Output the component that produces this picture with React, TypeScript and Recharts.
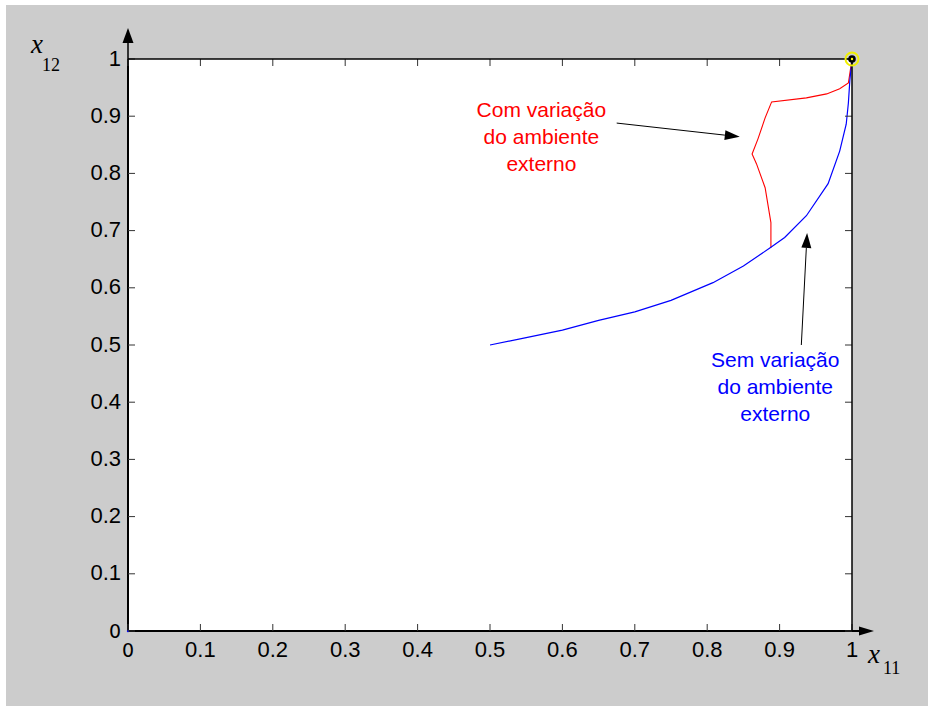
import React from "react";
import {
  ComposedChart,
  Line,
  Scatter,
  XAxis,
  YAxis,
  ReferenceLine,
  ReferenceDot,
  CartesianGrid,
} from "recharts";

// ---- data ----
const xTicks = [0, 0.1, 0.2, 0.3, 0.4, 0.5, 0.6, 0.7, 0.8, 0.9, 1];
const yTicks = [0, 0.1, 0.2, 0.3, 0.4, 0.5, 0.6, 0.7, 0.8, 0.9, 1];

// Sem variação do ambiente externo (blue)
const semX = [0.5, 0.55, 0.6, 0.65, 0.7, 0.75, 0.808, 0.85, 0.887, 0.907, 0.937, 0.967, 0.983, 0.992, 0.995, 0.997, 1];
const semY = [0.5, 0.513, 0.526, 0.543, 0.558, 0.578, 0.609, 0.638, 0.67, 0.688, 0.726, 0.782, 0.839, 0.886, 0.923, 0.962, 1];

// Com variação do ambiente externo (red)
const comX = [0.888, 0.888, 0.88, 0.868, 0.862, 0.87, 0.88, 0.889, 0.937, 0.965, 0.983, 0.995, 1];
const comY = [0.67, 0.714, 0.775, 0.817, 0.834, 0.86, 0.897, 0.925, 0.932, 0.939, 0.948, 0.958, 1];

const markerPoint = [{ x: 1, y: 1 }];
const originPoint = [{ x: 0, y: 0 }];

const comLabel = ["Com variação", "do ambiente", "externo"];
const semLabel = ["Sem variação", "do ambiente", "externo"];
const comLabelPos = { x: 0.571, y: 0.899 };
const semLabelPos = { x: 0.894, y: 0.4615 };
const comArrow = [{ x: 0.675, y: 0.888 }, { x: 0.845, y: 0.864 }];
const semArrow = [{ x: 0.93, y: 0.5 }, { x: 0.938, y: 0.696 }];

const semData = semX.map((x, i) => ({ x, y: semY[i] }));
const comData = comX.map((x, i) => ({ x, y: comY[i] }));

// ---- layout ----
const W = 928;
const H = 706;
const P = { left: 128, top: 59, right: 852, bottom: 631 };
const SANS = "'Liberation Sans', Arial, Helvetica, sans-serif";
const SERIF = "'Liberation Serif', 'Times New Roman', serif";
const TICK_LEN = 7;
const TICK_FS = 22;

const fmt = (v: number) => (v === 0 ? "0" : v === 1 ? "1" : v.toFixed(1));

const XTick = (props: any) => {
  const { x, payload } = props;
  const v = payload.value;
  return (
    <g>
      <line x1={x} y1={P.bottom} x2={x} y2={P.bottom - TICK_LEN} stroke="#333" strokeWidth={1} />
      <line x1={x} y1={P.top} x2={x} y2={P.top + TICK_LEN} stroke="#333" strokeWidth={1} />
      <text
        x={x}
        y={656.5}
        textAnchor="middle"
        fontFamily={v === 0 ? "'DejaVu Sans', sans-serif" : SANS}
        fontSize={v === 0 ? 19 : TICK_FS}
        fill="#000"
      >
        {fmt(v)}
      </text>
    </g>
  );
};

const YTick = (props: any) => {
  const { y, payload } = props;
  const v = payload.value;
  return (
    <g>
      <line x1={P.left} y1={y} x2={P.left + TICK_LEN} y2={y} stroke="#333" strokeWidth={1} />
      <line x1={P.right} y1={y} x2={P.right - TICK_LEN} y2={y} stroke="#333" strokeWidth={1} />
      <text
        x={121}
        y={y + 6.5}
        textAnchor="end"
        fontFamily={v === 0 ? "'DejaVu Sans', sans-serif" : SANS}
        fontSize={v === 0 ? 19 : TICK_FS}
        fill="#000"
      >
        {fmt(v)}
      </text>
    </g>
  );
};

const arrowShape = (props: any) => {
  const { x1, y1, x2, y2 } = props;
  const dx = x2 - x1;
  const dy = y2 - y1;
  const len = Math.sqrt(dx * dx + dy * dy) || 1;
  const ux = dx / len;
  const uy = dy / len;
  const hl = 15;
  const hw = 5;
  const bx = x2 - ux * hl;
  const by = y2 - uy * hl;
  const pts = `${x2},${y2} ${bx - uy * hw},${by + ux * hw} ${bx + uy * hw},${by - ux * hw}`;
  return (
    <g>
      <line x1={x1} y1={y1} x2={bx} y2={by} stroke="#000" strokeWidth={1} />
      <polygon points={pts} fill="#000" />
    </g>
  );
};

const textBlock = (lines: string[], color: string) => (props: any) => {
  const { cx, cy } = props;
  return (
    <g>
      {lines.map((l, i) => (
        <text key={i} x={cx} y={cy + i * 27} textAnchor="middle" fontFamily={SANS} fontSize={21} fill={color}>
          {l}
        </text>
      ))}
    </g>
  );
};

const MarkerShape = (props: any) => {
  const { cx, cy } = props;
  return (
    <g>
      <circle cx={cx} cy={cy} r={6.5} fill="none" stroke="#f0f000" strokeWidth={2} />
      <circle cx={cx} cy={cy} r={3.8} fill="#000" />
      <circle cx={cx} cy={cy} r={1.2} fill="#ffff00" />
    </g>
  );
};

const OriginShape = (props: any) => {
  const { cx, cy } = props;
  return <circle cx={cx} cy={cy} r={1.2} fill="#0000ff" />;
};

export default function App() {
  return (
    <div style={{ position: "absolute", left: 0, top: 0, width: W, height: H, background: "#ffffff" }}>
      <div style={{ position: "absolute", left: 6, top: 5, width: W - 6, height: H - 5, background: "#cccccc" }} />
      <div style={{ position: "absolute", left: 0, top: 0, width: W, height: H }}>
        <ComposedChart
          width={W}
          height={H}
          margin={{ top: P.top, right: W - P.right, bottom: H - P.bottom - 1, left: P.left - 1 }}
        >
          <CartesianGrid fill="#ffffff" horizontal={false} vertical={false} stroke="none" />
          <XAxis
            type="number"
            dataKey="x"
            domain={[0, 1]}
            ticks={xTicks}
            interval={0}
            height={1}
            axisLine={{ stroke: "#000", strokeWidth: 2 }}
            tickLine={false}
            tick={<XTick />}
          />
          <YAxis
            type="number"
            dataKey="y"
            domain={[0, 1]}
            ticks={yTicks}
            interval={0}
            width={1}
            axisLine={{ stroke: "#000", strokeWidth: 2 }}
            tickLine={false}
            tick={<YTick />}
          />
          <Line
            data={comData}
            dataKey="y"
            type="linear"
            stroke="#ff0000"
            strokeWidth={1.1}
            dot={false}
            isAnimationActive={false}
          />
          <Line
            data={semData}
            dataKey="y"
            type="linear"
            stroke="#0000ff"
            strokeWidth={1.2}
            dot={false}
            isAnimationActive={false}
          />
          <Scatter data={originPoint} shape={OriginShape} isAnimationActive={false} />
          <ReferenceLine segment={comArrow} ifOverflow="visible" shape={arrowShape} />
          <ReferenceLine segment={semArrow} ifOverflow="visible" shape={arrowShape} />
          <ReferenceDot
            x={comLabelPos.x}
            y={comLabelPos.y}
            r={0}
            ifOverflow="visible"
            shape={textBlock(comLabel, "#ff0000")}
          />
          <ReferenceDot
            x={semLabelPos.x}
            y={semLabelPos.y}
            r={0}
            ifOverflow="visible"
            shape={textBlock(semLabel, "#0000ff")}
          />
        </ComposedChart>
      </div>
      <svg
        width={W}
        height={H}
        style={{ position: "absolute", left: 0, top: 0, pointerEvents: "none" }}
      >
        {/* box top/right */}
        <line x1={P.left} y1={P.top} x2={P.right} y2={P.top} stroke="#000" strokeWidth={1.5} />
        <line x1={P.right} y1={P.top} x2={P.right} y2={P.bottom} stroke="#000" strokeWidth={1.5} />
        {/* axis arrows */}
        <line x1={P.left} y1={P.top} x2={P.left} y2={42} stroke="#000" strokeWidth={1.5} />
        <polygon points={`${P.left - 5.5},43 ${P.left + 5.5},43 ${P.left},28`} fill="#000" />
        <line x1={P.right} y1={P.bottom} x2={860} y2={P.bottom} stroke="#000" strokeWidth={2} />
        <polygon points={`859,${P.bottom - 4.5} 859,${P.bottom + 4.5} 874,${P.bottom}`} fill="#000" />
        {/* axis labels */}
        <text x={31} y={53} fontFamily={SERIF} fontStyle="italic" fontSize={27} fill="#000">x</text>
        <text x={42} y={71} fontFamily={SERIF} fontSize={18} fill="#000">12</text>
        <text x={868} y={663} fontFamily={SERIF} fontStyle="italic" fontSize={27} fill="#000">x</text>
        <text x={883} y={674} fontFamily={SERIF} fontSize={18} fill="#000">11</text>
      </svg>
      <div style={{ position: "absolute", left: 0, top: 0, width: W, height: H, pointerEvents: "none" }}>
        <ComposedChart
          width={W}
          height={H}
          margin={{ top: P.top, right: W - P.right, bottom: H - P.bottom - 1, left: P.left - 1 }}
        >
          <XAxis type="number" dataKey="x" domain={[0, 1]} height={1} hide />
          <YAxis type="number" dataKey="y" domain={[0, 1]} width={1} hide />
          <Scatter data={markerPoint} shape={MarkerShape} isAnimationActive={false} />
        </ComposedChart>
      </div>
    </div>
  );
}
